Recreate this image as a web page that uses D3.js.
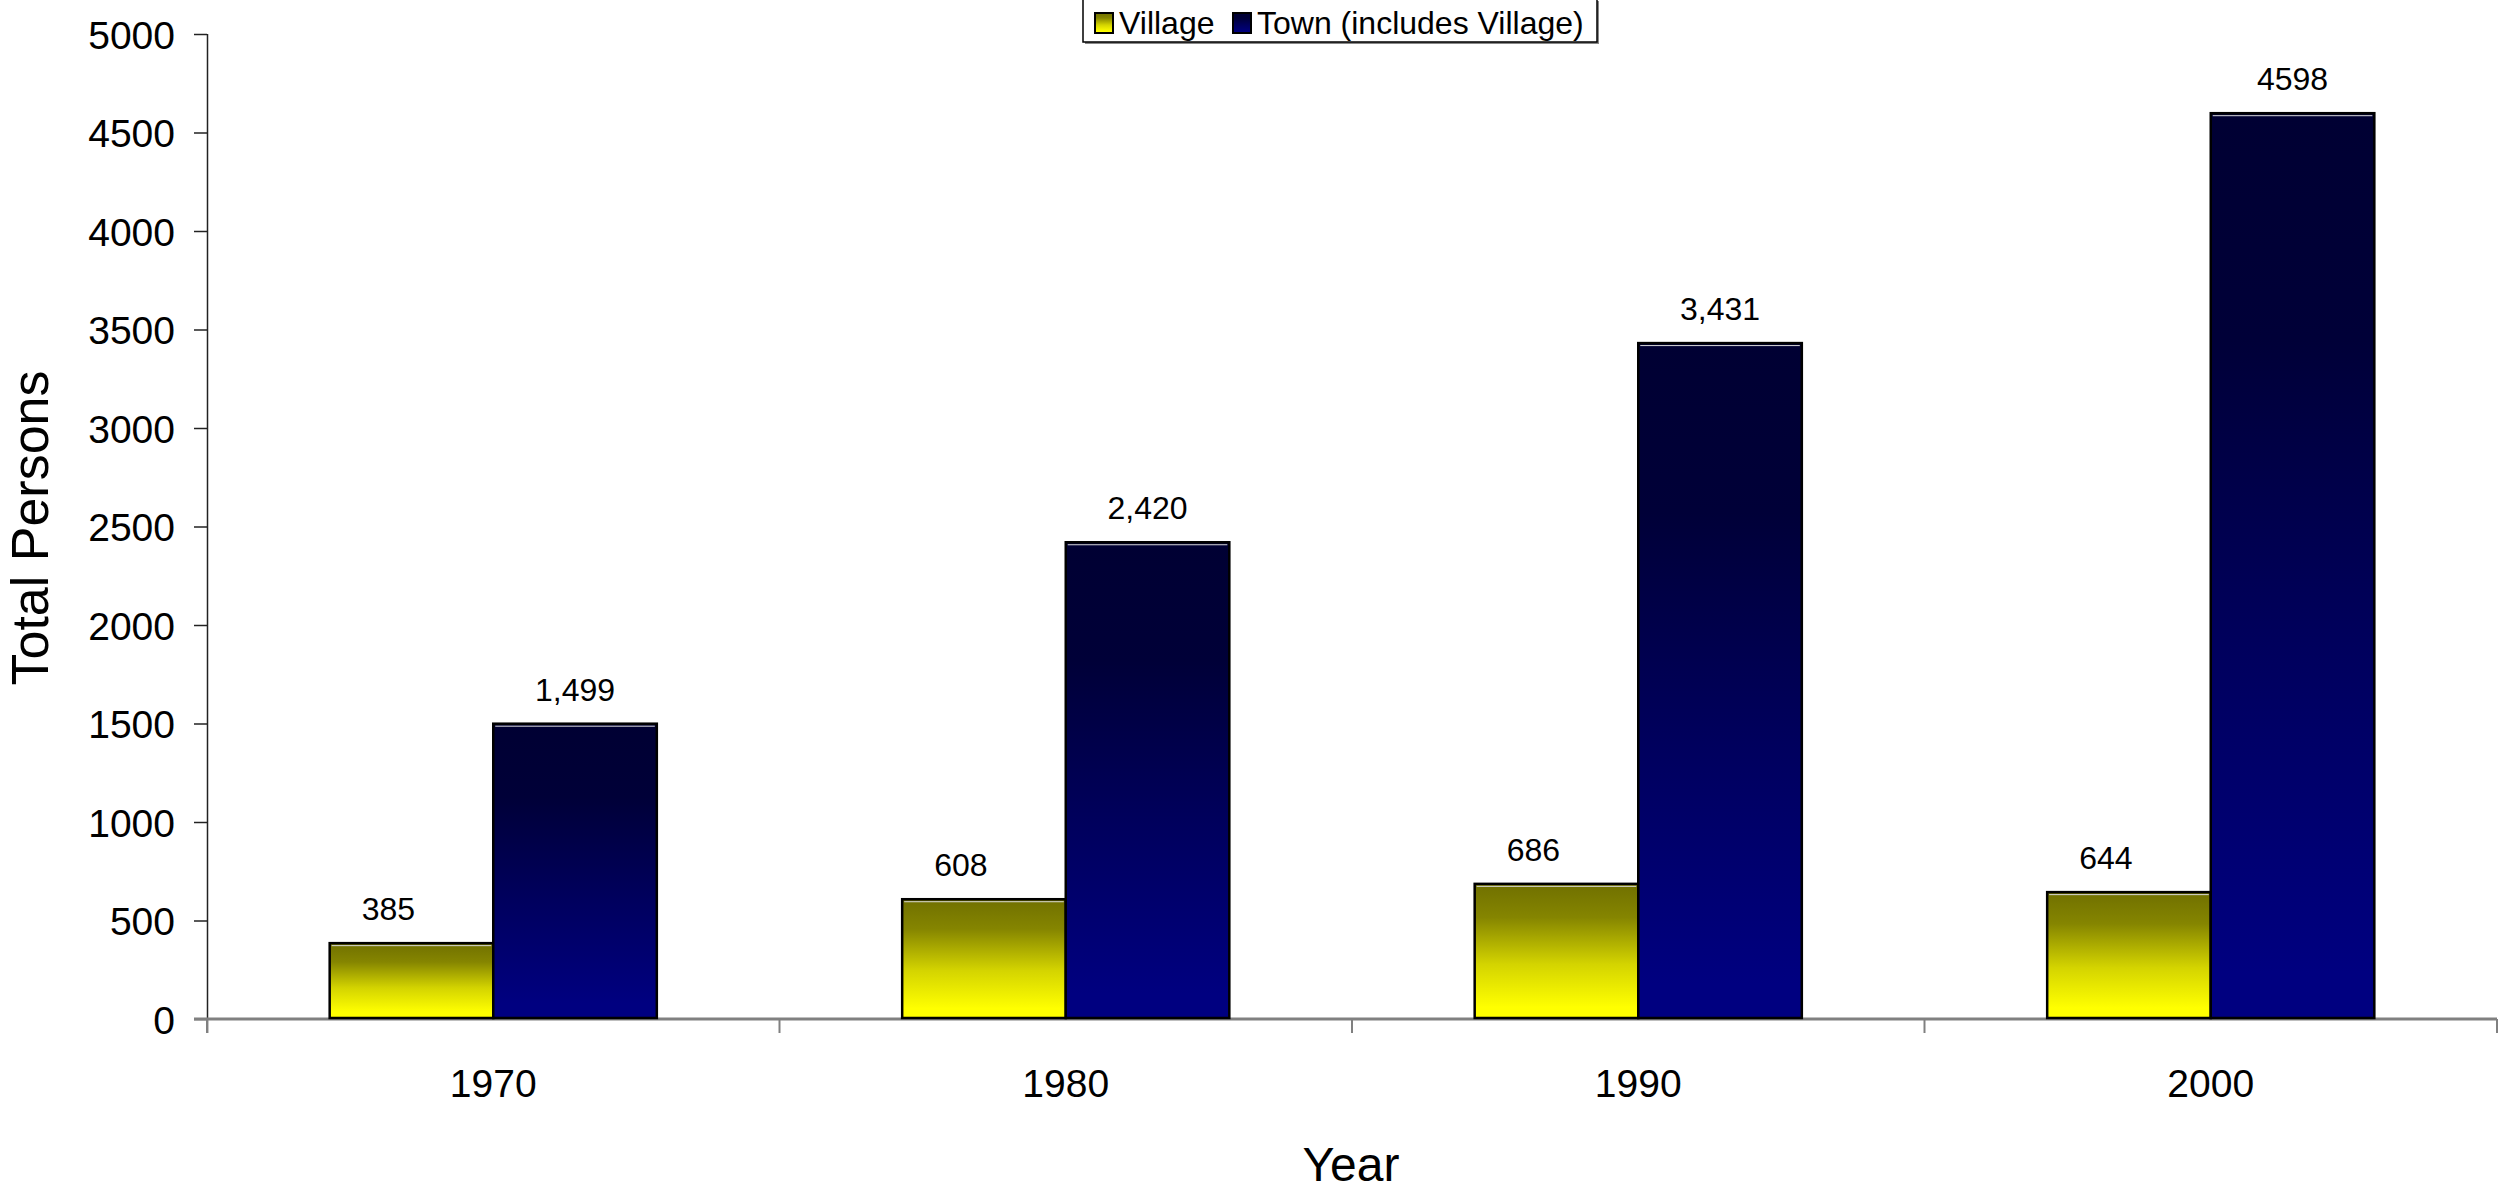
<!DOCTYPE html>
<meta charset="utf-8">
<style>
body { margin: 0; background: #fff; }
svg text { font-family: "Liberation Sans", Arial, sans-serif; fill: #000; }
</style>
<svg width="2498" height="1192"></svg>
<script src="https://d3js.org/d3.v7.min.js"></script>
<script>

// data
var years = ["1970", "1980", "1990", "2000"];
var series = ["Village", "Town (includes Village)"];
var village = [385, 608, 686, 644];
var town = [1499, 2420, 3431, 4598];
var villageLabels = ["385", "608", "686", "644"];
var townLabels = ["1,499", "2,420", "3,431", "4598"];
var yTicks = [0, 500, 1000, 1500, 2000, 2500, 3000, 3500, 4000, 4500, 5000];

var svg = d3.select("svg");

// gradients for the two series
var defs = svg.append("defs");
function grad(id, stops) {
  var g = defs.append("linearGradient").attr("id", id)
      .attr("x1", 0).attr("y1", 0).attr("x2", 0).attr("y2", 1);
  stops.forEach(function(s) {
    g.append("stop").attr("offset", s[0]).attr("stop-color", s[1]);
  });
}
grad("gVillage", [["0%", "#707000"], ["25%", "#858500"], ["60%", "#d4d400"], ["92%", "#ffff00"], ["100%", "#ffff00"]]);
grad("gTown", [["0%", "#000033"], ["25%", "#000038"], ["60%", "#00005e"], ["95%", "#000080"], ["100%", "#000080"]]);
var fills = ["url(#gVillage)", "url(#gTown)"];

var x0 = d3.scaleBand().domain(years).range([207, 2497]).padding(0);
var x1 = d3.scaleBand().domain(series).range([0, x0.bandwidth()])
    .paddingInner(0).paddingOuter(0.75);
var y = d3.scaleLinear().domain([0, 5000]).range([1019, 34]);

// y axis
var yAxis = svg.append("g")
    .attr("transform", "translate(207,0)")
    .call(d3.axisLeft(y).tickValues(yTicks).tickSize(13).tickPadding(19).tickFormat(d3.format("d")));
yAxis.select(".domain").attr("stroke", "#222").attr("stroke-width", 1.5)
    .attr("d", "M0.5," + y(5000) + "V1033");
yAxis.selectAll(".tick line").attr("stroke", "#222").attr("stroke-width", 1.5);
yAxis.selectAll(".tick text")
    .style("font-size", "39px").attr("dy", "0.36em");

// x axis (gray)
var xAxis = svg.append("g")
    .attr("transform", "translate(0," + y(0) + ")");
xAxis.append("line")
    .attr("x1", 194).attr("x2", 2497)
    .attr("stroke", "#808080").attr("stroke-width", 3);
var edges = years.map(function(d) { return x0(d); }).concat([x0.range()[1]]);
xAxis.selectAll(".sep").data(edges).enter().append("line")
    .attr("class", "sep")
    .attr("x1", function(d) { return d; }).attr("x2", function(d) { return d; })
    .attr("y1", 0).attr("y2", 14)
    .attr("stroke", "#808080").attr("stroke-width", 2);
xAxis.selectAll(".lab").data(years).enter().append("text")
    .attr("class", "lab")
    .attr("x", function(d) { return x0(d) + x0.bandwidth() / 2; })
    .attr("y", 78)
    .attr("text-anchor", "middle")
    .style("font-size", "39px")
    .text(function(d) { return d; });

// bars
var rows = years.map(function(yr, i) {
  return { year: yr, vals: [village[i], town[i]], labs: [villageLabels[i], townLabels[i]] };
});
var groups = svg.append("g").selectAll("g")
    .data(rows).enter().append("g")
    .attr("transform", function(d) { return "translate(" + x0(d.year) + ",0)"; });

var cells = groups.selectAll("g.bar")
    .data(function(d) {
      return series.map(function(s, k) { return { s: s, k: k, v: d.vals[k], lab: d.labs[k] }; });
    })
    .enter().append("g").attr("class", "bar");

cells.append("rect")
    .attr("x", function(d) { return x1(d.s); })
    .attr("y", function(d) { return y(d.v); })
    .attr("width", x1.bandwidth())
    .attr("height", function(d) { return y(0) - y(d.v) - 1; })
    .attr("fill", function(d) { return fills[d.k]; })
    .attr("stroke", "#000").attr("stroke-width", 2.5);

// light line under bar top
cells.append("line")
    .attr("x1", function(d) { return x1(d.s) + 2; })
    .attr("x2", function(d) { return x1(d.s) + x1.bandwidth() - 2; })
    .attr("y1", function(d) { return y(d.v) + 2.5; })
    .attr("y2", function(d) { return y(d.v) + 2.5; })
    .attr("stroke", "#d8d8d8").attr("stroke-width", 1);

cells.append("text")
    .attr("x", function(d) { return x1(d.s) + x1.bandwidth() / 2 + (d.k === 0 ? -23 : 0); })
    .attr("y", function(d) { return y(d.v) - 23; })
    .attr("text-anchor", "middle")
    .style("font-size", "32px")
    .text(function(d) { return d.lab; });

// axis titles
svg.append("text")
    .attr("x", 1351).attr("y", 1181)
    .attr("text-anchor", "middle")
    .style("font-size", "48px")
    .text("Year");
svg.append("text")
    .attr("transform", "translate(48,528) rotate(-90)")
    .attr("text-anchor", "middle")
    .style("font-size", "52px")
    .text("Total Persons");

// legend
var legend = svg.append("g");
legend.append("rect")
    .attr("x", 1085).attr("y", 1).attr("width", 514).attr("height", 43)
    .attr("fill", "#888");
legend.append("rect")
    .attr("x", 1083).attr("y", -1).attr("width", 514).attr("height", 43)
    .attr("fill", "#fff").attr("stroke", "#000").attr("stroke-width", 1.5);
var legX = [1095, 1233];
var items = legend.selectAll("g.item").data(series).enter().append("g").attr("class", "item")
    .attr("transform", function(d, i) { return "translate(" + legX[i] + ",0)"; });
items.append("rect")
    .attr("x", 0).attr("y", 13).attr("width", 18).attr("height", 20)
    .attr("fill", function(d, i) { return fills[i]; })
    .attr("stroke", "#000").attr("stroke-width", 2);
items.append("text")
    .attr("x", 24).attr("y", 34)
    .style("font-size", "32px")
    .text(function(d) { return d; });

</script>
